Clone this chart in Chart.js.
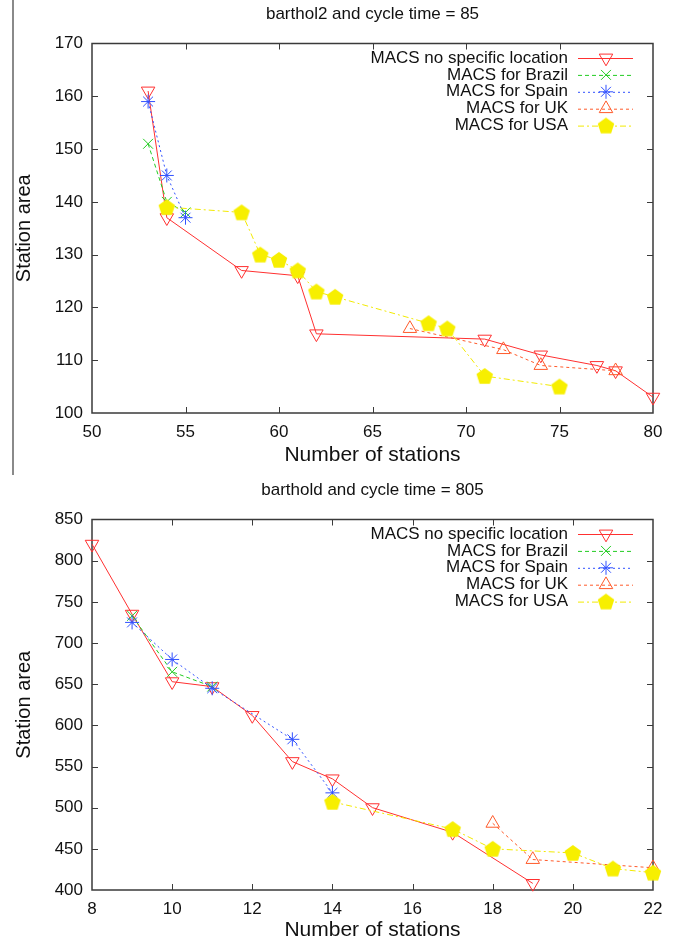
<!DOCTYPE html>
<html><head><meta charset="utf-8">
<script src="https://cdn.jsdelivr.net/npm/chart.js@4.4.1/dist/chart.umd.min.js"></script>
<style>
html,body{margin:0;padding:0;background:#fff;width:677px;height:941px;overflow:hidden}
.box{position:absolute;left:0;width:677px}
#c1box{top:0;height:470px}
#c2box{top:470px;height:471px}
#stray{position:absolute;left:12px;top:0;width:2px;height:475px;background:#8a8a8a}
</style></head><body>
<div id="c1box" class="box"><canvas id="c1"></canvas></div>
<div id="c2box" class="box"><canvas id="c2"></canvas></div>
<div id="stray"></div>
<script>
// ---------- DATA ----------
const seriesNames = ["MACS no specific location","MACS for Brazil","MACS for Spain","MACS for UK","MACS for USA"];

// barthol2, cycle time = 85
const topTitle = "barthol2 and cycle time = 85";
const topNoLocX = [53,54,58,61,62,71,74,77,78,80];
const topNoLocY = [161,137,127,126,115,114,111,109,108,103];
const topBrazilX = [53,54,55];
const topBrazilY = [151,140,138];
const topSpainX = [53,54,55];
const topSpainY = [159,145,137];
const topUKX = [67,72,74,78];
const topUKY = [116,112,109,108];
const topUSAX = [54,58,59,60,61,62,63,68,69,71,75];
const topUSAY = [139,138,130,129,127,123,122,117,116,107,105];
const topXTicks = [50,55,60,65,70,75,80];
const topYTicks = [100,110,120,130,140,150,160,170];

// barthold, cycle time = 805
const botTitle = "barthold and cycle time = 805";
const botNoLocX = [8,9,10,11,12,13,14,15,17,19];
const botNoLocY = [820,735,653,647,612,556,535,500,470,408];
const botBrazilX = [9,10,11];
const botBrazilY = [733,665,647];
const botSpainX = [9,10,11,13,14];
const botSpainY = [725,680,645,583,518];
const botUKX = [18,19,22];
const botUKY = [481,437,427];
const botUSAX = [14,17,18,20,21,22];
const botUSAY = [507,474,450,445,426,421];
const botXTicks = [8,10,12,14,16,18,20,22];
const botYTicks = [400,450,500,550,600,650,700,750,800,850];

const xTitle = "Number of stations";
const yTitle = "Station area";

// ---------- STYLE ----------
Chart.defaults.font.family = "'Liberation Sans', Arial, Helvetica, sans-serif";
const FONT = "'Liberation Sans', Arial, Helvetica, sans-serif";

function pentagonCanvas(R, color){
  const s = Math.ceil(R*2+2);
  const c = document.createElement('canvas'); c.width = s; c.height = s;
  const g = c.getContext('2d');
  g.beginPath();
  for(let k=0;k<5;k++){
    const a = -Math.PI/2 + k*2*Math.PI/5;
    const px = s/2 + R*Math.cos(a), py = s/2 + R*Math.sin(a) + 0.6;
    k? g.lineTo(px,py) : g.moveTo(px,py);
  }
  g.closePath(); g.fillStyle = color; g.fill();
  return c;
}
const pent = pentagonCanvas(8.7, '#f7ef00');

const styles = [
  {color:'#ff3030', dash:[], pointStyle:'triangle', rotation:180, radius:7.8},
  {color:'#22cc22', dash:[4,3], pointStyle:'crossRot', rotation:0, radius:7},
  {color:'#3050ff', dash:[2,3], pointStyle:'star', rotation:0, radius:7},
  {color:'#ff5a2a', dash:[3,3], pointStyle:'triangle', rotation:0, radius:7.8},
  {color:'#f2ea00', dash:[6,3,2,3], pointStyle:pent, rotation:0, radius:8},
];

function makeDs(i, xs, ys){
  const s = styles[i];
  return {
    label: seriesNames[i],
    data: xs.map((x,k)=>({x:x, y:ys[k]})),
    borderColor: s.color, borderWidth: 1, borderDash: s.dash,
    pointStyle: s.pointStyle, rotation: s.rotation, pointRadius: s.radius,
    pointBorderColor: s.color, pointBackgroundColor: 'rgba(0,0,0,0)',
    pointBorderWidth: 1, pointHoverRadius: s.radius,
    tension: 0, fill: false, clip: false, order: 5 - i
  };
}

function drawMarker(ctx, i, x, y){
  const s = styles[i];
  ctx.save();
  ctx.setLineDash([]); ctx.lineWidth = 1; ctx.strokeStyle = s.color;
  const R = s.radius;
  if (s.pointStyle instanceof HTMLCanvasElement) {
    ctx.drawImage(s.pointStyle, x - s.pointStyle.width/2, y - s.pointStyle.height/2);
  } else if (s.pointStyle === 'triangle') {
    ctx.beginPath();
    let rad = s.rotation*Math.PI/180;
    for (let k=0;k<3;k++){
      const px = x + Math.sin(rad)*R, py = y - Math.cos(rad)*R;
      k? ctx.lineTo(px,py) : ctx.moveTo(px,py);
      rad += 2*Math.PI/3;
    }
    ctx.closePath(); ctx.stroke();
  } else {
    ctx.beginPath();
    const d = R*Math.SQRT1_2;
    ctx.moveTo(x-d,y-d); ctx.lineTo(x+d,y+d);
    ctx.moveTo(x+d,y-d); ctx.lineTo(x-d,y+d);
    if (s.pointStyle === 'star') {
      ctx.moveTo(x-R,y); ctx.lineTo(x+R,y);
      ctx.moveTo(x,y-R); ctx.lineTo(x,y+R);
    }
    ctx.stroke();
  }
  ctx.restore();
}

const framePlugin = {
  id: 'frame',
  beforeDatasetsDraw(chart){
    const {ctx, chartArea:a, scales} = chart;
    ctx.save();
    ctx.strokeStyle = '#3a3a3a'; ctx.lineWidth = 1.5; ctx.setLineDash([]);
    ctx.strokeRect(a.left, a.top, a.right-a.left, a.bottom-a.top);
    ctx.lineWidth = 1;
    const L = 6;
    scales.x.ticks.forEach(t=>{
      const px = Math.round(scales.x.getPixelForValue(t.value)) + 0.5;
      if (px <= a.left+1 || px >= a.right-1) return;
      ctx.beginPath();
      ctx.moveTo(px, a.bottom); ctx.lineTo(px, a.bottom-L);
      ctx.moveTo(px, a.top); ctx.lineTo(px, a.top+L);
      ctx.stroke();
    });
    scales.y.ticks.forEach(t=>{
      const py = Math.round(scales.y.getPixelForValue(t.value)) + 0.5;
      if (py <= a.top+1 || py >= a.bottom-1) return;
      ctx.beginPath();
      ctx.moveTo(a.left, py); ctx.lineTo(a.left+L, py);
      ctx.moveTo(a.right, py); ctx.lineTo(a.right-L, py);
      ctx.stroke();
    });
    ctx.restore();
  },
  afterDraw(chart){
    const {ctx, chartArea:a} = chart;
    ctx.save();
    ctx.font = '17px ' + FONT;
    ctx.fillStyle = '#111';
    ctx.textAlign = 'right'; ctx.textBaseline = 'middle';
    chart.data.datasets.forEach((ds, i)=>{
      const y = a.top + 14.5 + i*16.9;
      ctx.fillText(ds.label, 568, y);
      const s = styles[i];
      ctx.strokeStyle = s.color; ctx.lineWidth = 1; ctx.setLineDash(s.dash);
      ctx.beginPath(); ctx.moveTo(578, y+0.5); ctx.lineTo(633, y+0.5); ctx.stroke();
      drawMarker(ctx, i, 606, y);
    });
    ctx.restore();
  }
};

function makeChart(id, title, dsets, xr, yr, xTicks, yTicks, geom){
  return new Chart(document.getElementById(id), {
    type: 'line',
    data: { datasets: dsets },
    plugins: [framePlugin],
    options: {
      responsive: true, maintainAspectRatio: false, animation: false, devicePixelRatio: 1,
      layout: { padding: {left:0, right:24, top:0, bottom:0} },
      plugins: {
        legend: {display:false}, tooltip: {enabled:false},
        title: { display:true, text:title, color:'#111', fullSize:false,
          font:{size:17, weight:'normal', lineHeight:1.2},
          padding:{top:geom.titleTop, bottom:geom.titleBottom} }
      },
      scales: {
        x: {
          type:'linear', min:xr[0], max:xr[1],
          afterBuildTicks: s => { s.ticks = xTicks.map(v=>({value:v})); },
          ticks: { color:'#111', font:{size:17}, padding:geom.xTickPad, maxRotation:0, autoSkip:false },
          grid: { display:false, drawTicks:false },
          border: { display:false },
          title: { display:true, text:xTitle, color:'#111', font:{size:21, lineHeight:1}, padding:{top:0,bottom:geom.xTitlePad} },
          afterFit: s => { s.height = geom.xHeight; }
        },
        y: {
          type:'linear', min:yr[0], max:yr[1],
          afterBuildTicks: s => { s.ticks = yTicks.map(v=>({value:v})); },
          ticks: { color:'#111', font:{size:17}, padding:9, autoSkip:false },
          grid: { display:false, drawTicks:false },
          border: { display:false },
          title: { display:true, text:yTitle, color:'#111', font:{size:20, lineHeight:1}, padding:{top:14,bottom:0} },
          afterFit: s => { s.width = 92; }
        }
      }
    }
  });
}

makeChart('c1', topTitle, [
  makeDs(0, topNoLocX, topNoLocY),
  makeDs(1, topBrazilX, topBrazilY),
  makeDs(2, topSpainX, topSpainY),
  makeDs(3, topUKX, topUKY),
  makeDs(4, topUSAX, topUSAY)
], [50,80], [100,170], topXTicks, topYTicks,
 {titleTop:4.5, titleBottom:18.6, xHeight:57, xTickPad:9, xTitlePad:4});

makeChart('c2', botTitle, [
  makeDs(0, botNoLocX, botNoLocY),
  makeDs(1, botBrazilX, botBrazilY),
  makeDs(2, botSpainX, botSpainY),
  makeDs(3, botUKX, botUKY),
  makeDs(4, botUSAX, botUSAY)
], [8,22], [400,850], botXTicks, botYTicks,
 {titleTop:10.5, titleBottom:18.6, xHeight:51, xTickPad:9, xTitlePad:0});
</script>
</body></html>
